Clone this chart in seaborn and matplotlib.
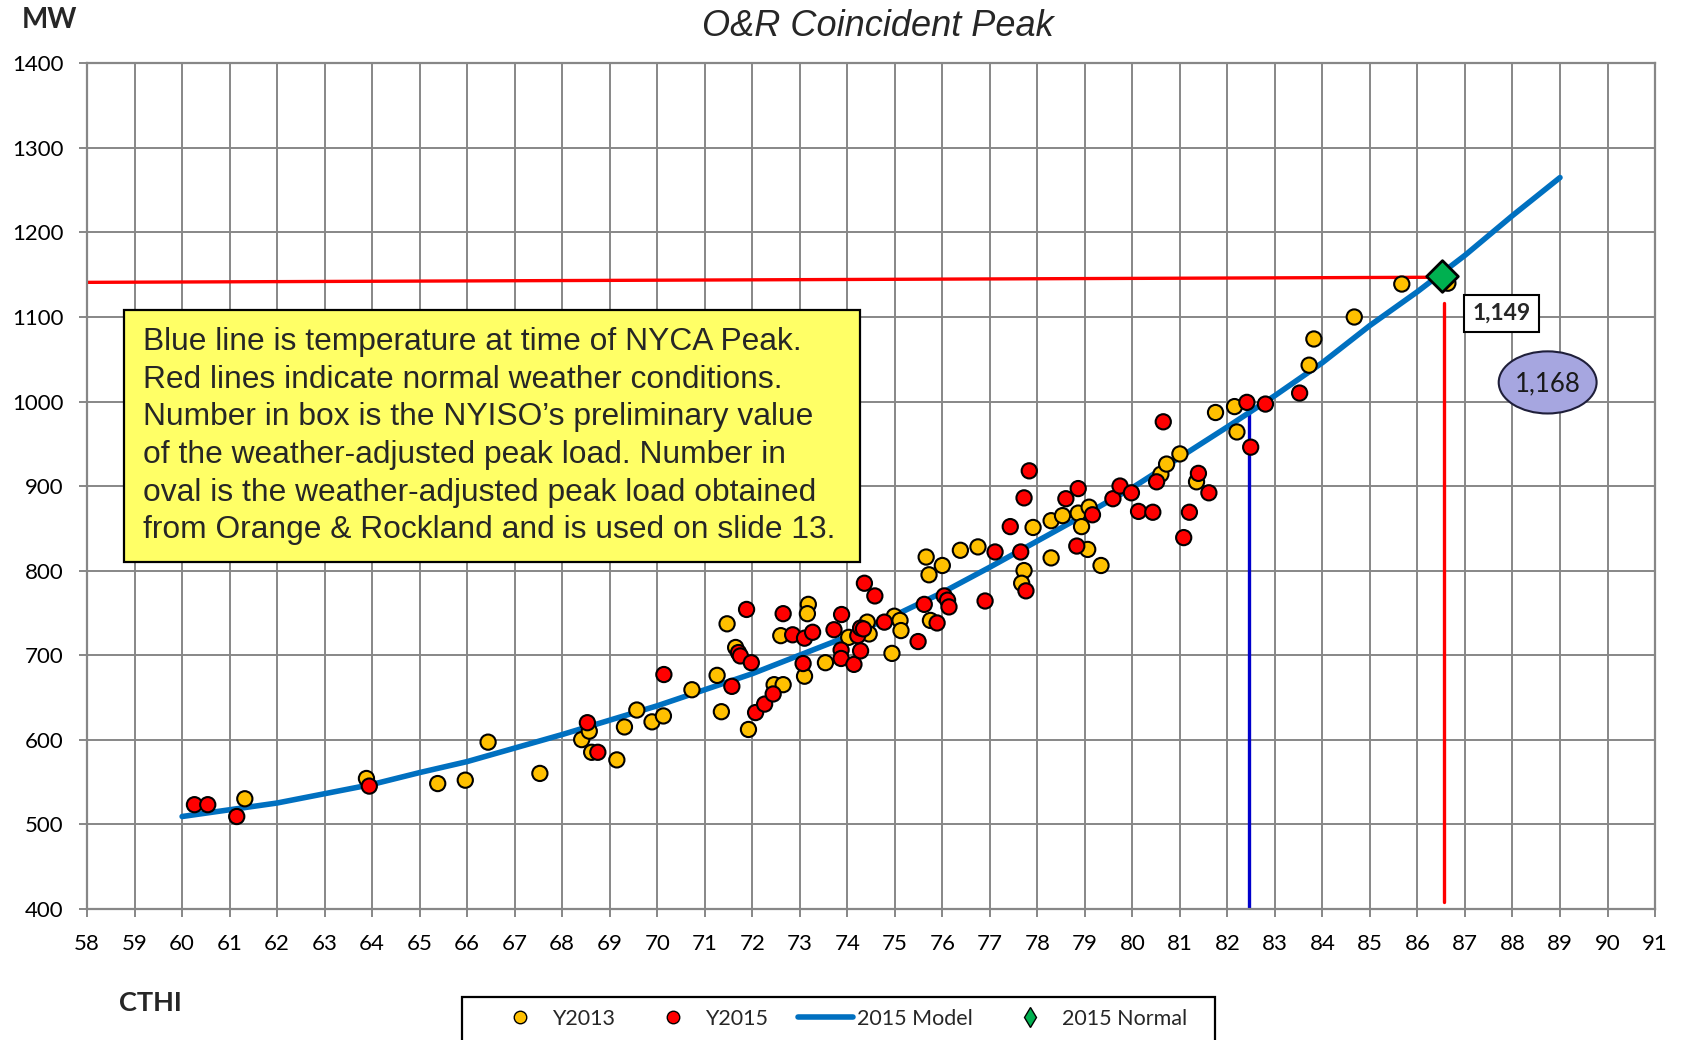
import numpy as np
import pandas as pd
import matplotlib
matplotlib.use('Agg')
import matplotlib.pyplot as plt
import seaborn as sns
from matplotlib.lines import Line2D
from matplotlib.patches import Rectangle, Ellipse

# 数据
y2013_x = [61.32, 63.88, 65.38, 65.96, 66.44, 67.53, 68.41, 68.57, 68.62, 69.15,
           69.31, 69.57, 69.89, 70.13, 70.73, 71.26, 71.35, 71.47, 71.65, 71.92,
           72.46, 72.65, 72.60, 73.18, 73.16, 73.10, 73.54, 74.03, 74.42, 74.46,
           74.99, 75.11, 75.13, 74.94, 75.75, 75.66, 75.72, 76.00, 76.38, 76.75,
           77.72, 77.67, 78.29, 79.06, 79.34, 77.91, 78.29, 78.53, 78.86, 79.09,
           78.93, 80.60, 80.72, 81.00, 81.35, 81.75, 82.15, 82.20, 83.72, 83.82,
           84.67, 85.67, 86.64]
y2013_y = [530, 554, 548, 552, 597, 560, 600, 610, 585, 576,
           615, 635, 621, 628, 659, 676, 633, 737, 709, 612,
           665, 665, 723, 760, 749, 675, 691, 721, 739, 725,
           746, 741, 729, 702, 741, 816, 795, 806, 824, 828,
           800, 785, 815, 825, 806, 851, 859, 865, 868, 875,
           852, 914, 926, 938, 905, 987, 994, 964, 1043, 1074,
           1100, 1139, 1140]

y2015_x = [60.26, 60.54, 61.15, 63.94, 68.53, 68.75, 70.14, 71.57, 71.88, 71.71,
           71.75, 71.98, 72.07, 72.26, 72.44, 72.65, 72.85, 73.10, 73.27, 73.07,
           73.72, 73.88, 73.87, 73.87, 74.14, 74.28, 74.22, 74.28, 74.34, 74.36,
           74.58, 74.78, 75.49, 75.62, 75.89, 76.04, 76.11, 76.14, 76.90, 77.11,
           77.65, 77.76, 78.83, 77.43, 77.72, 77.83, 78.60, 78.86, 79.16, 79.59,
           79.74, 79.98, 80.13, 80.43, 80.51, 80.65, 81.08, 81.20, 81.39, 81.61,
           82.41, 82.49, 82.80, 83.52]
y2015_y = [523, 523, 509, 545, 620, 585, 677, 663, 754, 703,
           699, 691, 632, 642, 654, 749, 724, 720, 727, 690,
           730, 748, 706, 696, 689, 705, 723, 732, 731, 785,
           770, 739, 716, 760, 738, 770, 765, 757, 764, 822,
           822, 776, 829, 852, 886, 918, 885, 897, 866, 885,
           900, 892, 870, 869, 905, 976, 839, 869, 915, 892,
           999, 946, 997, 1010]

model_x = list(range(60, 90))
model_y = [509, 517, 525, 536, 547, 561, 574, 590, 606, 623,
           640, 659, 678, 700, 722, 747, 774, 804, 835, 866,
           898, 934, 970, 1007, 1046, 1090, 1130, 1173, 1220, 1265]

normal_x = [86.51]
normal_y = [1149]

# 参考线
normal_h_x = [58, 86.2]
normal_h_y = [1141, 1147]
normal_v_x = [86.55, 86.55]
normal_v_y = [408, 1117]
peak_v_x = [82.45, 82.45]
peak_v_y = [400, 988]

box_value = '1,149'
oval_value = '1,168'
note_text = ("Blue line is temperature at time of NYCA Peak.\n"
             "Red lines indicate normal weather conditions.\n"
             "Number in box is the NYISO\u2019s preliminary value\n"
             "of the weather-adjusted peak load. Number in\n"
             "oval is the weather-adjusted peak load obtained\n"
             "from Orange & Rockland and is used on slide 13.")

x_ticks = list(range(58, 92))
y_ticks = list(range(400, 1401, 100))

# 样式
sns.set_theme(style='white')
plt.rcParams['font.family'] = ['Lato', 'DejaVu Sans']
grid_c = '#878787'

pts = pd.DataFrame({
    'CTHI': y2013_x + y2015_x,
    'MW': y2013_y + y2015_y,
    'series': ['Y2013'] * len(y2013_x) + ['Y2015'] * len(y2015_x),
})
model_df = pd.DataFrame({'CTHI': model_x, 'MW': model_y})

fig = plt.figure(figsize=(16.84, 10.4), dpi=100)
ax = fig.add_axes([0.0517, 0.1263, 0.9311, 0.8127])

ax.plot(peak_v_x, peak_v_y, color='#0000CC', lw=2.4, zorder=2)
ax.plot(normal_v_x, normal_v_y, color='#FF0000', lw=2.4, zorder=2)
ax.plot(normal_h_x, normal_h_y, color='#FF0000', lw=2.4, zorder=2)

sns.lineplot(data=model_df, x='CTHI', y='MW', color='#0070C0', lw=4, ax=ax, zorder=3)
sns.scatterplot(data=pts, x='CTHI', y='MW', hue='series',
                palette={'Y2013': '#FFC000', 'Y2015': '#FF0000'},
                s=120, edgecolor='black', linewidth=1.5, legend=False, ax=ax, zorder=4)
ax.scatter(normal_x, normal_y, marker='D', s=260, color='#00B050',
           edgecolor='black', linewidth=2, zorder=5)

ax.set_xlim(58, 91)
ax.set_ylim(400, 1400)
ax.set_xticks(x_ticks)
ax.set_yticks(y_ticks)
ax.set_xlabel('')
ax.set_ylabel('')
ax.grid(True, color=grid_c, lw=1.4, zorder=0)
ax.set_axisbelow(True)
for sp in ax.spines.values():
    sp.set_color(grid_c)
    sp.set_linewidth(1.6)
ax.tick_params(axis='both', direction='out', length=6, width=1.4, color=grid_c,
               labelsize=16, labelcolor='black')
ax.tick_params(axis='x', pad=12, bottom=True)
ax.tick_params(axis='y', pad=11, left=True)

# 注释框
ax.add_patch(Rectangle((58.77, 810), 74.26 - 58.77, 1108 - 810, facecolor='#FFFF66',
                       edgecolor='black', lw=1.6, zorder=6))
ax.text(59.18, 959, note_text, ha='left', va='center', fontsize=22.9,
        family=['Liberation Sans', 'DejaVu Sans'], linespacing=1.33, zorder=7)

ax.text(87.77, 1104, box_value, ha='center', va='center', fontsize=16.5,
        fontweight='bold', zorder=7,
        bbox=dict(boxstyle='square,pad=0.35', facecolor='white', edgecolor='black', lw=1.5))
ax.add_patch(Ellipse((88.74, 1022.6), 2.06, 73.5, facecolor='#A6A6E0',
                     edgecolor='#1F1F3A', lw=1.5, zorder=6))
ax.text(88.74, 1021, oval_value, ha='center', va='center', fontsize=18.5,
        color='#1a1a1a', zorder=7)

fig.text(0.5214, 0.975, 'O&R Coincident Peak', ha='center', va='center',
         fontsize=26, style='italic', family=['Liberation Sans', 'DejaVu Sans'])
fig.text(0.0293, 0.981, 'MW', ha='center', va='center', fontsize=20, fontweight='bold')
fig.text(0.0891, 0.0356, 'CTHI', ha='center', va='center', fontsize=19.5, fontweight='bold')

# 图例
fig.patches.append(Rectangle((462 / 1684, -0.05), (1215 - 462) / 1684, 0.05 + 0.0413,
                             transform=fig.transFigure, facecolor='white',
                             edgecolor='black', lw=1.6, figure=fig))
handles = [
    Line2D([], [], marker='o', ls='', markersize=9, markerfacecolor='#FFC000', markeredgecolor='black'),
    Line2D([], [], marker='o', ls='', markersize=9, markerfacecolor='#FF0000', markeredgecolor='black'),
    Line2D([], [], color='#0070C0', lw=4),
    Line2D([], [], marker='d', ls='', markersize=10, markerfacecolor='#00B050', markeredgecolor='black'),
]
labels = ['Y2013', 'Y2015', '2015 Model', '2015 Normal']
fig.legend(handles, labels, loc='center left', bbox_to_anchor=(493 / 1684, 0.0202),
           ncol=4, frameon=False, fontsize=15.5, borderpad=0, borderaxespad=0,
           handlelength=2.55, handletextpad=0.2, columnspacing=1.4)

fig.savefig('out.png', dpi=100)
